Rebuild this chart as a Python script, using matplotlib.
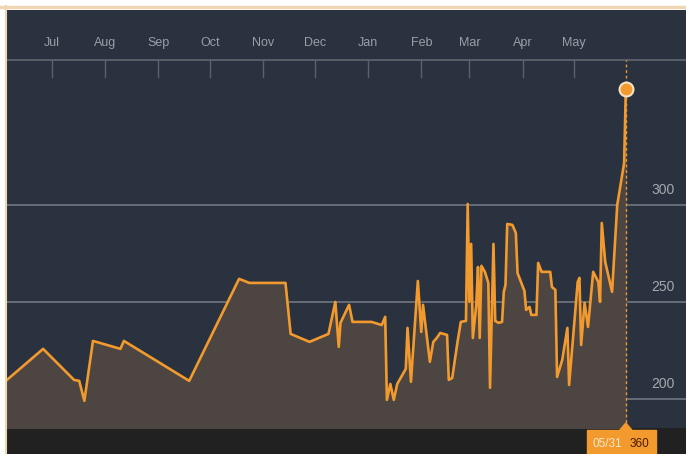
import matplotlib
matplotlib.use('Agg')
import matplotlib.pyplot as plt
from matplotlib.patches import Rectangle, Polygon
from matplotlib.lines import Line2D
from matplotlib.transforms import blended_transform_factory
import matplotlib.dates as mdates
import pandas as pd

plt.rcParams['font.family'] = ['Liberation Sans Narrow', 'Liberation Sans', 'DejaVu Sans']

# price series
dates = ['2016-06-05', '2016-06-26', '2016-07-14', '2016-07-17', '2016-07-20', '2016-07-25',
         '2016-08-10', '2016-08-12', '2016-09-19', '2016-10-18', '2016-10-24', '2016-11-14',
         '2016-11-17', '2016-11-28', '2016-12-09', '2016-12-13', '2016-12-15', '2016-12-16',
         '2016-12-21', '2016-12-23', '2017-01-03', '2017-01-09', '2017-01-11', '2017-01-12',
         '2017-01-14', '2017-01-16', '2017-01-18', '2017-01-23', '2017-01-24', '2017-01-26',
         '2017-01-30', '2017-02-01', '2017-02-02', '2017-02-06', '2017-02-08', '2017-02-10',
         '2017-02-12', '2017-02-16', '2017-02-17', '2017-02-19', '2017-02-22', '2017-02-24',
         '2017-02-27', '2017-02-28', '2017-03-01', '2017-03-02', '2017-03-03', '2017-03-05',
         '2017-03-06', '2017-03-07', '2017-03-08', '2017-03-10', '2017-03-12', '2017-03-13',
         '2017-03-15', '2017-03-16', '2017-03-18', '2017-03-20', '2017-03-21', '2017-03-22',
         '2017-03-23', '2017-03-26', '2017-03-28', '2017-03-29', '2017-04-02', '2017-04-03',
         '2017-04-05', '2017-04-06', '2017-04-09', '2017-04-10', '2017-04-12', '2017-04-17',
         '2017-04-18', '2017-04-20', '2017-04-21', '2017-04-24', '2017-04-27', '2017-04-28',
         '2017-05-03', '2017-05-04', '2017-05-05', '2017-05-07', '2017-05-09', '2017-05-12',
         '2017-05-15', '2017-05-16', '2017-05-17', '2017-05-19', '2017-05-23', '2017-05-26',
         '2017-05-30', '2017-05-31']
values = [209.8, 225.8, 209.8, 209.3, 199.0, 229.9,
          225.8, 229.9, 209.3, 261.9, 259.8, 259.8,
          233.5, 229.4, 233.5, 250.0, 226.8, 239.2,
          248.5, 239.7, 239.7, 238.1, 242.3, 199.5,
          207.7, 199.5, 207.7, 215.5, 236.6, 208.8,
          260.8, 234.5, 248.5, 219.1, 229.4, 231.4,
          234.0, 233.0, 209.8, 210.8, 228.9, 239.7,
          240.2, 300.5, 250.0, 279.9, 231.4, 248.5,
          268.0, 231.4, 268.6, 265.5, 259.8, 205.7,
          279.9, 240.2, 239.2, 239.7, 255.2, 258.8,
          290.2, 289.7, 285.6, 264.9, 255.7, 245.9,
          247.4, 243.3, 243.3, 270.1, 265.5, 265.5,
          257.7, 256.2, 211.3, 220.1, 236.6, 207.2,
          260.3, 262.4, 227.8, 249.5, 237.1, 265.5,
          260.3, 250.0, 290.7, 270.6, 255.2, 300.0,
          321.6, 360.0]
y_ticks = [200, 250, 300]
month_labels = ['Jul', 'Aug', 'Sep', 'Oct', 'Nov', 'Dec', 'Jan', 'Feb', 'Mar', 'Apr', 'May']
month_starts = ['2016-07-01', '2016-08-01', '2016-09-01', '2016-10-01', '2016-11-01', '2016-12-01',
                '2017-01-01', '2017-02-01', '2017-03-01', '2017-04-01', '2017-05-01']

x = pd.to_datetime(dates)
ms = pd.to_datetime(month_starts)

W, H = 686, 454
fig = plt.figure(figsize=(W / 100, H / 100), dpi=100)
fig.patch.set_facecolor('white')

panel = '#29323e'
orange = '#f29a2e'

# page border and bottom band
fig.add_artist(Rectangle((7 / W, 0), 1, 26 / H, transform=fig.transFigure, color='#212121', zorder=0))
fig.add_artist(Line2D([0, 1], [1 - 6.5 / H] * 2, transform=fig.transFigure, color='#f1d6b3', lw=2.5))
fig.add_artist(Line2D([6 / W] * 2, [0, 1 - 6 / H], transform=fig.transFigure, color='#f1d6b3', lw=1.5))

ax = fig.add_axes([7 / W, 26 / H, (W - 7) / W, (H - 26 - 10) / H])
ax.set_facecolor(panel)
for s in ax.spines.values():
    s.set_visible(False)

ymin, ymax = 185.0, 400.5
ax.set_ylim(ymin, ymax)
ax.set_xlim(pd.Timestamp('2016-06-05'), pd.Timestamp('2017-07-05'))
ax.set_xticks([])
ax.set_yticks([])

for v in y_ticks:
    ax.axhline(v, color='#6c727b', lw=1.3, zorder=1)
    ax.annotate(str(v), xy=(1, v), xycoords=('axes fraction', 'data'), xytext=(-8, 6),
                textcoords='offset points', ha='right', va='bottom', color='#a5a9b0', fontsize=10)

ax.fill_between(x, values, ymin, color='#4c4541', zorder=2)
ax.plot(x, values, color=orange, lw=1.9, zorder=3)

# top time axis
tr = blended_transform_factory(ax.transData, ax.transAxes)
ax.plot([0, 1], [0.88, 0.88], transform=ax.transAxes, color='#5c626b', lw=1.3, zorder=1)
for d, lab in zip(ms, month_labels):
    ax.plot([d, d], [0.88, 0.84], transform=tr, color='#5c626b', lw=1.0)
    ax.text(d, 0.922, lab, transform=tr, ha='center', va='center', color='#9a9fa7', fontsize=9)

# last value marker
last_x, last_v = x[-1], values[-1]
ax.plot([last_x, last_x], [0, 0.88], transform=tr, color=orange, lw=1.0, ls=(0, (2, 2)), zorder=4)
ax.plot([last_x], [last_v], 'o', ms=10, mfc=orange, mec='#f6e3c6', mew=1.5, zorder=5)

# value label box at bottom
fig.canvas.draw()
px = ax.transData.transform((mdates.date2num(last_x), ymin))[0]
bw, bh = 69, 24
bx = px - 39
fig.add_artist(Rectangle((bx / W, 0), bw / W, bh / H, transform=fig.transFigure, color=orange, zorder=5))
fig.add_artist(Polygon([((px - 6) / W, bh / H), ((px + 6) / W, bh / H), (px / W, (bh + 7) / H)],
                       closed=True, transform=fig.transFigure, color=orange, zorder=5))
fig.text((bx + 6) / W, 10 / H, last_x.strftime('%m/%d'), color='#fbe6c8', fontsize=8.5,
         ha='left', va='center', zorder=6)
fig.text((bx + 43) / W, 10 / H, f'{last_v:.0f}', color='#4a1a05', fontsize=8.5,
         ha='left', va='center', zorder=6)

fig.savefig('out.png', dpi=100, facecolor=fig.get_facecolor())
